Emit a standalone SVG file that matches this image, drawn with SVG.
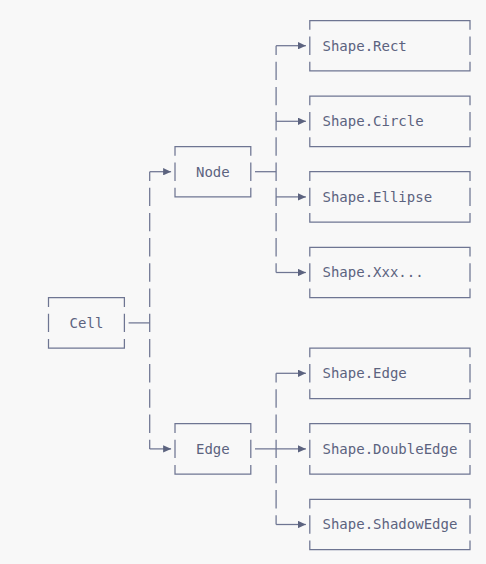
<svg xmlns="http://www.w3.org/2000/svg" width="486" height="564" viewBox="0 0 486 564">
  <style>
    .box { fill: none; stroke: #6e7592; stroke-width: 1.25; }
    .ln { fill: none; stroke: #6e7592; stroke-width: 1.25; }
    .dash { fill: none; stroke: #6e7592; stroke-width: 1.25; stroke-dasharray: 18.4 6.8; stroke-dashoffset: 9.2; }
    .lbl { font-family: "DejaVu Sans Mono", "Liberation Mono", monospace; font-size: 14px; fill: #5c637f; }
  </style>
  <defs>
    <marker id="arr" viewBox="0 0 8 7.4" refX="8" refY="3.7" markerWidth="8" markerHeight="7.4" markerUnits="userSpaceOnUse" orient="auto">
      <path d="M0,0 L8,3.7 L0,7.4 z" fill="#5c637f"/>
    </marker>
  </defs>
  <rect x="0" y="0" width="486" height="564" fill="#f8f8f8"/>

  <g transform="translate(0.5,0)">
  <g id="connectors">
    <path class="dash" d="M149.2,171.7 V448.9"/>
    <path class="dash" d="M275.6,45.7 V272.5"/>
    <path class="dash" d="M275.6,373.3 V524.5"/>
    <path class="ln" d="M128.1,322.9 H149.2"/>
    <path class="ln" d="M254.5,171.7 H275.6"/>
    <path class="ln" d="M149.2,171.7 H170.6" marker-end="url(#arr)"/>
    <path class="ln" d="M149.2,448.9 H170.6" marker-end="url(#arr)"/>
    <path class="ln" d="M275.6,45.7 H305.4" marker-end="url(#arr)"/>
    <path class="ln" d="M275.6,121.3 H305.4" marker-end="url(#arr)"/>
    <path class="ln" d="M275.6,196.9 H305.4" marker-end="url(#arr)"/>
    <path class="ln" d="M275.6,272.5 H305.4" marker-end="url(#arr)"/>
    <path class="ln" d="M275.6,373.3 H305.4" marker-end="url(#arr)"/>
    <path class="ln" d="M254.5,448.9 H305.4" marker-end="url(#arr)"/>
    <path class="ln" d="M275.6,524.5 H305.4" marker-end="url(#arr)"/>
  </g>

  <g id="cell" transform="translate(48,297.7)">
    <path class="box" d="M0,9.2 V0 H75.9 V9.2 M0,16 V34.4 M75.9,16 V34.4 M0,41.2 V50.4 H75.9 V41.2"/>
    <text class="lbl" x="21.1" y="30.2">Cell</text>
  </g>
  <g id="node" transform="translate(174.5,146.5)">
    <path class="box" d="M0,9.2 V0 H75.8 V9.2 M0,16 V34.4 M75.8,16 V34.4 M0,41.2 V50.4 H75.8 V41.2"/>
    <text class="lbl" x="21" y="30.2">Node</text>
  </g>
  <g id="edge" transform="translate(174.5,423.7)">
    <path class="box" d="M0,9.2 V0 H75.8 V9.2 M0,16 V34.4 M75.8,16 V34.4 M0,41.2 V50.4 H75.8 V41.2"/>
    <text class="lbl" x="21" y="30.2">Edge</text>
  </g>
  <g id="shape-rect" transform="translate(309.3,20.5)">
    <path class="box" d="M0,9.2 V0 H160.2 V9.2 M0,16 V34.4 M160.2,16 V34.4 M0,41.2 V50.4 H160.2 V41.2"/>
    <text class="lbl" x="12.7" y="30.2">Shape.Rect</text>
  </g>
  <g id="shape-circle" transform="translate(309.3,96.1)">
    <path class="box" d="M0,9.2 V0 H160.2 V9.2 M0,16 V34.4 M160.2,16 V34.4 M0,41.2 V50.4 H160.2 V41.2"/>
    <text class="lbl" x="12.7" y="30.2">Shape.Circle</text>
  </g>
  <g id="shape-ellipse" transform="translate(309.3,171.7)">
    <path class="box" d="M0,9.2 V0 H160.2 V9.2 M0,16 V34.4 M160.2,16 V34.4 M0,41.2 V50.4 H160.2 V41.2"/>
    <text class="lbl" x="12.7" y="30.2">Shape.Ellipse</text>
  </g>
  <g id="shape-xxx" transform="translate(309.3,247.3)">
    <path class="box" d="M0,9.2 V0 H160.2 V9.2 M0,16 V34.4 M160.2,16 V34.4 M0,41.2 V50.4 H160.2 V41.2"/>
    <text class="lbl" x="12.7" y="30.2">Shape.Xxx...</text>
  </g>
  <g id="shape-edge" transform="translate(309.3,348.1)">
    <path class="box" d="M0,9.2 V0 H160.2 V9.2 M0,16 V34.4 M160.2,16 V34.4 M0,41.2 V50.4 H160.2 V41.2"/>
    <text class="lbl" x="12.7" y="30.2">Shape.Edge</text>
  </g>
  <g id="shape-doubleedge" transform="translate(309.3,423.7)">
    <path class="box" d="M0,9.2 V0 H160.2 V9.2 M0,16 V34.4 M160.2,16 V34.4 M0,41.2 V50.4 H160.2 V41.2"/>
    <text class="lbl" x="12.7" y="30.2">Shape.DoubleEdge</text>
  </g>
  <g id="shape-shadowedge" transform="translate(309.3,499.3)">
    <path class="box" d="M0,9.2 V0 H160.2 V9.2 M0,16 V34.4 M160.2,16 V34.4 M0,41.2 V50.4 H160.2 V41.2"/>
    <text class="lbl" x="12.7" y="30.2">Shape.ShadowEdge</text>
  </g>
  </g>
</svg>
